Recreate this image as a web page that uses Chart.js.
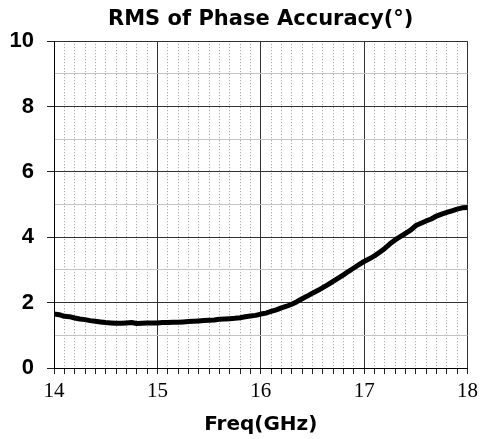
<!DOCTYPE html>
<html lang="en">
<head>
  <meta charset="UTF-8" />
  <title>RMS of Phase Accuracy</title>
  <script src="https://cdn.jsdelivr.net/npm/chart.js"></script>
  <style>
    body {
      margin: 0;
      background: #fff;
    }
    #wrap {
      width: 483px;
      height: 439px;
    }
  </style>
</head>
<body>
  <div id="wrap">
    <canvas id="rmsChart" width="483" height="439"></canvas>
  </div>

  <script>
    // frequency (GHz) and RMS phase error (deg)
    const freq = [
      14.00, 14.05, 14.10, 14.15, 14.20, 14.25, 14.30, 14.35, 14.40, 14.45,
      14.50, 14.55, 14.60, 14.65, 14.70, 14.75, 14.80, 14.85, 14.90, 14.95,
      15.00, 15.05, 15.10, 15.15, 15.20, 15.25, 15.30, 15.35, 15.40, 15.45,
      15.50, 15.55, 15.60, 15.65, 15.70, 15.75, 15.80, 15.85, 15.90, 15.95,
      16.00, 16.05, 16.10, 16.15, 16.20, 16.25, 16.30, 16.35, 16.40, 16.45,
      16.50, 16.55, 16.60, 16.65, 16.70, 16.75, 16.80, 16.85, 16.90, 16.95,
      17.00, 17.05, 17.10, 17.15, 17.20, 17.25, 17.30, 17.35, 17.40, 17.45,
      17.50, 17.55, 17.60, 17.65, 17.70, 17.75, 17.80, 17.85, 17.90, 17.95,
      18.00
    ];
    const rms = [
      1.65, 1.63, 1.58, 1.57, 1.53, 1.50, 1.48, 1.45, 1.43, 1.41,
      1.39, 1.38, 1.37, 1.37, 1.38, 1.39, 1.36, 1.37, 1.38, 1.38,
      1.38, 1.39, 1.39, 1.40, 1.40, 1.41, 1.42, 1.43, 1.44, 1.45,
      1.46, 1.47, 1.49, 1.50, 1.51, 1.52, 1.54, 1.57, 1.59, 1.61,
      1.65, 1.68, 1.73, 1.78, 1.84, 1.89, 1.95, 2.03, 2.12, 2.20,
      2.29, 2.37, 2.46, 2.55, 2.65, 2.75, 2.85, 2.96, 3.06, 3.16,
      3.26, 3.34, 3.43, 3.54, 3.66, 3.80, 3.92, 4.02, 4.12, 4.22,
      4.36, 4.43, 4.50, 4.56, 4.65, 4.71, 4.76, 4.81, 4.86, 4.90,
      4.91
    ];
    const xTickLabels = [14, 15, 16, 17, 18];
    const yTickLabels = [0, 2, 4, 6, 8, 10];

    function near(v, list) {
      return list.some(t => Math.abs(v - t) < 1e-6);
    }
    function tickVal(ctx) {
      return ctx.tick ? ctx.tick.value : NaN;
    }

    const points = freq.map((f, i) => ({ x: f, y: rms[i] }));

    new Chart(document.getElementById('rmsChart'), {
      type: 'line',
      data: {
        datasets: [{
          data: points,
          borderColor: '#000',
          borderWidth: 5,
          pointRadius: 0,
          tension: 0,
          borderJoinStyle: 'round',
          borderCapStyle: 'round'
        }]
      },
      options: {
        responsive: false,
        animation: false,
        layout: { padding: { left: 0, right: 12, top: 0, bottom: 0 } },
        plugins: {
          legend: { display: false },
          tooltip: { enabled: false },
          title: {
            display: true,
            fullSize: false,
            text: 'RMS of Phase Accuracy(°)',
            color: '#000',
            font: { family: 'DejaVu Sans', size: 21, weight: 'bold' },
            padding: { top: 7, bottom: 9 }
          }
        },
        scales: {
          x: {
            type: 'linear',
            min: 14,
            max: 18,
            afterFit: s => { s.height = 71; },
            ticks: {
              stepSize: 0.1,
              autoSkip: false,
              maxRotation: 0,
              color: '#000',
              padding: 5,
              font: { family: 'Liberation Serif', size: 21 },
              callback: v => near(v, xTickLabels) ? Math.round(v) : ''
            },
            grid: {
              color: ctx => near(tickVal(ctx), xTickLabels) ? '#333' : '#9a9a9a',
              lineWidth: 1,
              tickLength: 6,
              tickColor: '#222'
            },
            border: {
              color: '#000',
              width: 1,
              dash: ctx => (ctx.tick && !near(ctx.tick.value, xTickLabels)) ? [1, 2] : []
            },
            title: {
              display: true,
              text: 'Freq(GHz)',
              color: '#000',
              font: { family: 'DejaVu Sans', size: 20, weight: 'bold' },
              padding: { top: 0, bottom: 2 }
            }
          },
          y: {
            min: 0,
            max: 10,
            afterFit: s => { s.width = 54; },
            ticks: {
              stepSize: 1,
              autoSkip: false,
              color: '#000',
              padding: 13,
              font: { family: 'Liberation Sans', size: 22, weight: 'bold' },
              callback: v => near(v, yTickLabels) ? v : ''
            },
            grid: {
              color: ctx => near(tickVal(ctx), yTickLabels) ? '#333' : '#c4c4c4',
              lineWidth: 1,
              tickLength: 7,
              tickColor: ctx => near(tickVal(ctx), yTickLabels) ? '#222' : 'rgba(0,0,0,0)'
            },
            border: { color: '#000', width: 1 }
          }
        }
      }
    });
  </script>
</body>
</html>
